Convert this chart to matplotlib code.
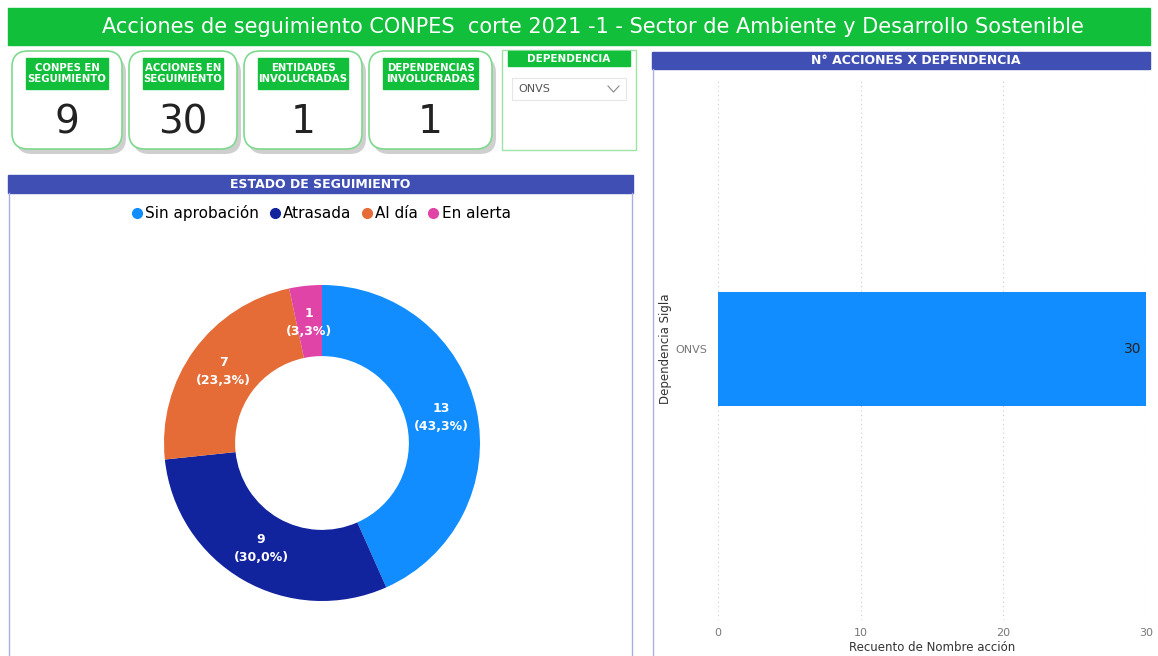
import numpy as np
import matplotlib
matplotlib.use("Agg")
import matplotlib.pyplot as plt
from matplotlib.patches import Rectangle, FancyBboxPatch
from matplotlib.lines import Line2D

# data
estados = ["Sin aprobación", "Atrasada", "Al día", "En alerta"]
conteos = [13, 9, 7, 1]
colores = ["#118DFF", "#12239E", "#E66C37", "#E044A7"]

dependencias = ["ONVS"]
acciones = [30]

kpi_titulos = ["CONPES EN\nSEGUIMIENTO", "ACCIONES EN\nSEGUIMIENTO",
               "ENTIDADES\nINVOLUCRADAS", "DEPENDENCIAS\nINVOLUCRADAS"]
kpi_valores = [9, 30, 1, 1]

W, H = 1158, 656
VERDE = "#12BF3B"
AZUL = "#3F4FB3"
plt.rcParams['font.family'] = ['DejaVu Sans']

fig = plt.figure(figsize=(W / 100, H / 100), dpi=100)
bg = fig.add_axes([0, 0, 1, 1])
bg.set_xlim(0, W)
bg.set_ylim(H, 0)
bg.axis("off")


def px_axes(x0, y0, x1, y1):
    return fig.add_axes([x0 / W, 1 - y1 / H, (x1 - x0) / W, (y1 - y0) / H])


# title bar
bg.add_patch(Rectangle((8, 8), 1142, 37, color=VERDE))
bg.text(593, 27, "Acciones de seguimiento CONPES  corte 2021 -1 - Sector de Ambiente y Desarrollo Sostenible",
        color="white", fontsize=15, ha="center", va="center")

# kpi cards
cards = [(12, 122), (129, 237), (244, 362), (369, 492)]
for (x0, x1), t, v in zip(cards, kpi_titulos, kpi_valores):
    bg.add_patch(FancyBboxPatch((x0 + 4, 57), x1 - x0, 97, boxstyle="round,pad=0,rounding_size=16",
                                fc="#a8a8a8", ec="none", alpha=0.55))
    bg.add_patch(FancyBboxPatch((x0, 51), x1 - x0, 98, boxstyle="round,pad=0,rounding_size=16",
                                fc="white", ec="#7ED98E", lw=1.2))
    cx = (x0 + x1) / 2
    hw = (x1 - x0) - 28
    bg.add_patch(Rectangle((cx - hw / 2, 58), hw, 31, color=VERDE))
    bg.text(cx, 73.5, t, color="white", fontsize=7.3, fontweight="bold", ha="center", va="center",
            linespacing=1.15)
    bg.text(cx, 122, str(v), color="#222222", fontsize=28, ha="center", va="center")

# slicer
bg.add_patch(Rectangle((502, 50), 134, 100, fc="white", ec="#9EE3A8", lw=1))
bg.add_patch(Rectangle((508, 51), 122, 15, color=VERDE))
bg.text(569, 58.5, "DEPENDENCIA", color="white", fontsize=7.5, fontweight="bold", ha="center", va="center")
bg.add_patch(Rectangle((512, 78), 114, 22, fc="white", ec="#e6e6e6", lw=0.8))
bg.text(518, 89.5, "ONVS", color="#555555", fontsize=8, ha="left", va="center")
bg.plot([608, 613.5, 619], [86, 92, 86], color="#888888", lw=0.8)

# donut panel
bg.add_patch(Rectangle((8, 175), 625, 18, color=AZUL))
bg.text(320, 184, "ESTADO DE SEGUIMIENTO", color="white", fontsize=9, fontweight="bold",
        ha="center", va="center")
bg.plot([8.5, 8.5], [193, 656], color="#A9B0E0", lw=1)
bg.plot([632, 632], [193, 656], color="#A9B0E0", lw=1)

total = sum(conteos)
axd = px_axes(164, 285, 480, 601)
wedges, _, autotexts = axd.pie(
    conteos, colors=colores, startangle=90, counterclock=False, radius=1,
    wedgeprops=dict(width=0.45, edgecolor="none"),
    autopct=lambda p: "%d\n(%s%%)" % (round(p * total / 100), ("%.1f" % p).replace(".", ",")),
    pctdistance=0.77)
for t in autotexts:
    t.set_color("white")
    t.set_fontsize(9)
    t.set_fontweight("bold")
    t.set_linespacing(1.5)
axd.set_xlim(-1, 1)
axd.set_ylim(-1, 1)
axd.set_aspect("equal")

handles = [Line2D([], [], marker="o", ls="", color=c, markersize=7) for c in colores]
fig.legend(handles, estados, loc="center", bbox_to_anchor=(320 / W, 1 - 213 / H), ncol=4,
           frameon=False, fontsize=11, handletextpad=0.05, columnspacing=0.5, handlelength=1)

# bar panel
bg.add_patch(Rectangle((652, 52), 498, 17, color=AZUL))
bg.text(916, 60.5, "N° ACCIONES X DEPENDENCIA", color="white", fontsize=9, fontweight="bold",
        ha="center", va="center")
bg.plot([652.5, 652.5], [69, 656], color="#A9B0E0", lw=1)

axb = px_axes(718, 78, 1146, 620)
axb.barh(dependencias, acciones, height=0.21, color="#118DFF")
axb.set_xlim(0, 30)
axb.set_ylim(-0.5, 0.5)
axb.set_xticks([0, 10, 20, 30])
axb.grid(axis="x", color="#cccccc", ls=(0, (1, 3)), lw=0.8)
axb.set_axisbelow(True)
for s in axb.spines.values():
    s.set_visible(False)
axb.tick_params(length=0, labelsize=8, labelcolor="#777777", pad=6)
axb.tick_params(axis="y", pad=8)
for y, v in zip(dependencias, acciones):
    axb.text(v - 0.3, y, str(v), ha="right", va="center", fontsize=10, color="#222222")
axb.set_xlabel("Recuento de Nombre acción", fontsize=8.5, color="#333333", labelpad=2)
axb.set_ylabel("Dependencia Sigla", fontsize=8.5, color="#333333", labelpad=2)

fig.savefig("out.png", dpi=100)
